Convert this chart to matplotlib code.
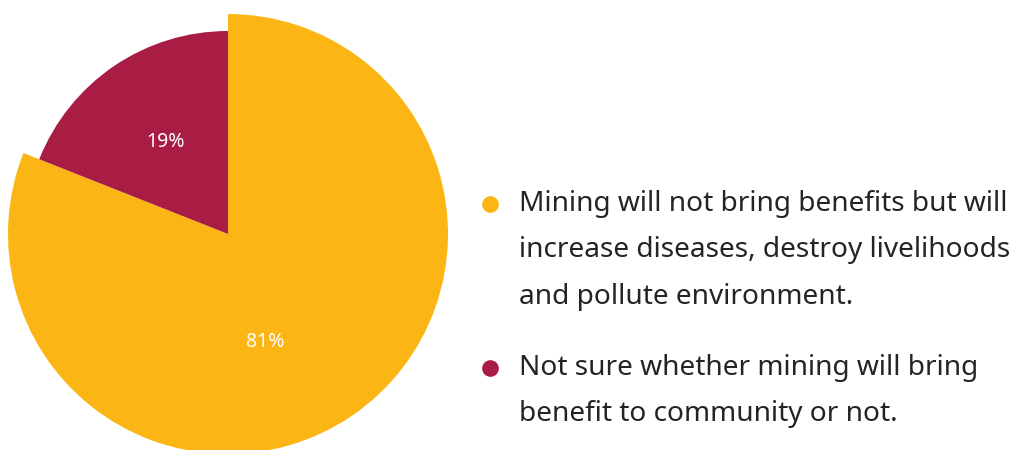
import matplotlib
matplotlib.use("Agg")
import matplotlib.pyplot as plt
from matplotlib.lines import Line2D

# Survey responses on the expected impact of mining
categories = [
    "Mining will not bring benefits but will\nincrease diseases, destroy livelihoods\nand pollute environment.",
    "Not sure whether mining will bring\nbenefit to community or not.",
]
shares = [81, 19]
colors = ["#FBB615", "#A91D45"]

W, H = 1032, 450
fig = plt.figure(figsize=(W / 100, H / 100), dpi=100)
ax = fig.add_axes([0, 0, 1, 1])

cx, cy = 228, H - 234
wedges, _ = ax.pie(shares, colors=colors, startangle=90, counterclock=False,
                   center=(cx, cy), radius=203,
                   wedgeprops=dict(linewidth=0), frame=True)
ax.set_xlim(0, W)
ax.set_ylim(0, H)
ax.set_aspect("equal")
ax.axis("off")
# the leading slice is drawn with a larger radius
wedges[0].set_radius(220)

label_pos = [(265, H - 342), (166, H - 142)]
for v, (x, y) in zip(shares, label_pos):
    ax.text(x, y, f"{v}%", color="white", fontsize=14, family="Noto Sans",
            ha="center", va="center")

# legend
item_y = [H - 204, H - 368]
line_gap = 46.5
for cat, col, y in zip(categories, colors, item_y):
    ax.add_line(Line2D([490], [y], marker="o", markersize=12, color=col,
                       markeredgewidth=0, linestyle="none"))
    for i, line in enumerate(cat.split("\n")):
        ax.text(519, y - i * line_gap, line, fontsize=20.2, family="Noto Sans",
                color="#262324", ha="left", va="center")

fig.savefig("out.png", dpi=100)
